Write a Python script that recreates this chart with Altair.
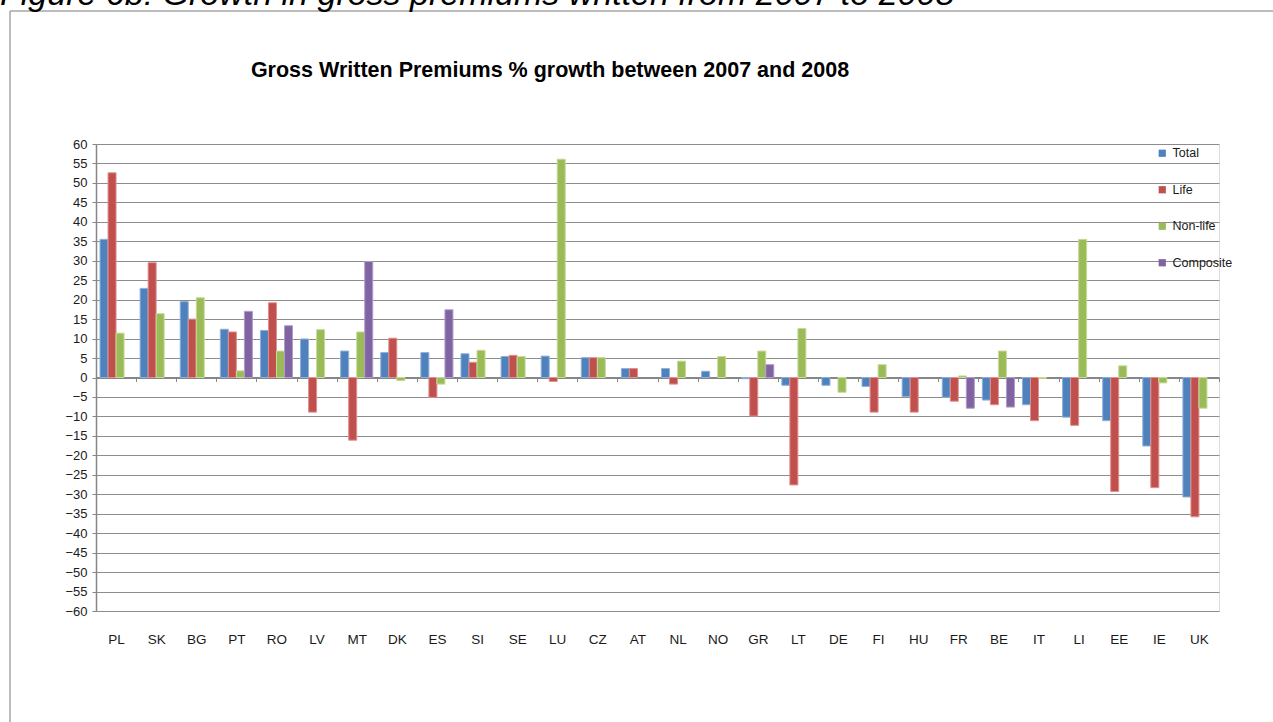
import altair as alt
import pandas as pd

# Gross written premiums, % growth 2007 -> 2008, by country and business line
countries = ["PL", "SK", "BG", "PT", "RO", "LV", "MT", "DK", "ES", "SI", "SE", "LU", "CZ", "AT",
             "NL", "NO", "GR", "LT", "DE", "FI", "HU", "FR", "BE", "IT", "LI", "EE", "IE", "UK"]

total = [35.5, 22.9, 19.5, 12.4, 12.1, 9.9, 6.8, 6.4, 6.4, 6.1, 5.4, 5.5, 5.1, 2.3,
         2.3, 1.6, -0.3, -2.0, -2.0, -2.3, -4.9, -5.1, -5.8, -7.0, -10.2, -11.1, -17.6, -30.7]
life = [52.6, 29.5, 15.0, 11.7, 19.2, -8.9, -16.1, 10.1, -5.1, 3.9, 5.7, -1.0, 5.1, 2.3,
        -1.7, None, -9.9, -27.6, None, -8.9, -8.9, -6.1, -7.0, -11.1, -12.3, -29.3, -28.3, -35.8]
non_life = [11.4, 16.4, 20.5, 1.7, 6.8, 12.3, 11.7, -0.8, -1.7, 7.0, 5.4, 56.1, 5.1, None,
            4.2, 5.4, 6.8, 12.6, -3.8, 3.3, None, 0.4, 6.8, -0.2, 35.5, 3.0, -1.4, -7.9]
composite = [None, None, None, 17.0, 13.3, None, 29.8, None, 17.4, None, None, None, None, None,
             None, None, 3.3, None, None, None, None, -7.9, -7.6, None, None, None, None, None]

series_names = ["Total", "Life", "Non-life", "Composite"]
series_colors = ["#4F81BD", "#C0504D", "#9BBB59", "#8064A2"]
series_edges = ["#8EB0DA", "#E0908E", "#C6DC98", "#B09CCB"]

y_ticks = list(range(-60, 61, 5))

caption = "Figure 6b: Growth in gross premiums written from 2007 to 2008"
chart_title = "Gross Written Premiums % growth between 2007 and 2008"

rows = []
for name, values in zip(series_names, [total, life, non_life, composite]):
    for c, v in zip(countries, values):
        if v is not None:
            rows.append({"country": c, "series": name, "growth": v})
df = pd.DataFrame(rows)

W, H = 1123, 467
FONT = "Liberation Sans"

x_enc = alt.X(
    "country:N", sort=countries, title=None,
    scale=alt.Scale(paddingInner=0, paddingOuter=0),
    axis=alt.Axis(
        offset=-H / 2, domainColor="#868686", domainWidth=2,
        tickBand="extent", tickColor="#868686", tickSize=4, tickWidth=1,
        labelPadding=H / 2 + 17, labelFont=FONT, labelFontSize=13.5,
        labelColor="#1a1a1a", labelAngle=0, grid=False,
    ),
)

bars = alt.Chart(df).mark_bar(strokeWidth=1).encode(
    x=x_enc,
    xOffset=alt.XOffset("series:N", sort=series_names,
                        scale=alt.Scale(domain=series_names, paddingInner=0, paddingOuter=0.5)),
    y=alt.Y("growth:Q", title=None,
            scale=alt.Scale(domain=[-60, 60], nice=False, zero=False),
            axis=alt.Axis(values=y_ticks, grid=True, gridColor="#8c8c8c", gridWidth=1,
                          domainColor="#868686", domainWidth=1.5,
                          tickColor="#868686", tickSize=4, labelPadding=5,
                          labelFont=FONT, labelFontSize=13, labelColor="#1a1a1a")),
    color=alt.Color("series:N", sort=series_names,
                    scale=alt.Scale(domain=series_names, range=series_colors),
                    legend=alt.Legend(orient="none", legendX=1060, legendY=3, title=None,
                                      symbolType="square", symbolSize=52, symbolStrokeWidth=0,
                                      labelFont=FONT, labelFontSize=12.5, labelColor="#1a1a1a",
                                      rowPadding=23.5, labelOffset=4)),
    stroke=alt.Stroke("series:N", sort=series_names,
                      scale=alt.Scale(domain=series_names, range=series_edges), legend=None),
)

title_text = alt.Chart(pd.DataFrame({"t": [chart_title]})).mark_text(
    font=FONT, fontWeight="bold", fontSize=21.5, align="center",
    baseline="middle", color="#000000"
).encode(x=alt.value(454), y=alt.value(-73), text="t:N")

caption_text = alt.Chart(pd.DataFrame({"t": [caption]})).mark_text(
    font=FONT, fontStyle="italic", fontSize=34, align="left",
    baseline="alphabetic", color="#000000"
).encode(x=alt.value(-96), y=alt.value(-139), text="t:N")

frame_top = alt.Chart(pd.DataFrame({"k": [0]})).mark_rule(color="#a6a6a6", strokeWidth=1.5).encode(
    x=alt.value(-86), x2=alt.value(1177 + 10), y=alt.value(-133))
frame_left = alt.Chart(pd.DataFrame({"k": [0]})).mark_rule(color="#a6a6a6", strokeWidth=1.5).encode(
    x=alt.value(-86), y=alt.value(-133), y2=alt.value(H + 120))

chart = alt.layer(frame_top, frame_left, bars, title_text, caption_text).properties(
    width=W, height=H,
    autosize=alt.AutoSizeParams(type="none"),
    padding={"left": 96, "top": 144, "right": 54, "bottom": 111},
).configure_view(stroke=None).configure(background="white")

chart.save("out.html", embed_options={"renderer": "svg", "actions": False})
